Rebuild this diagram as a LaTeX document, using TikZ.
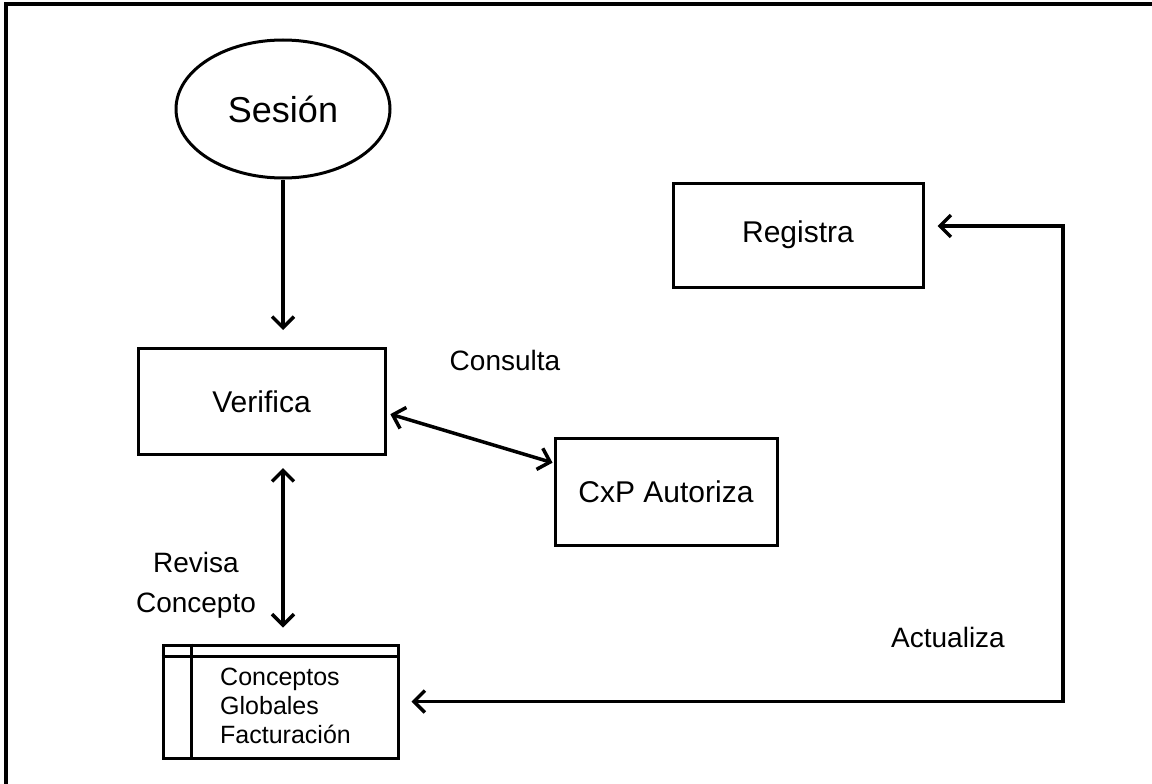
\documentclass[tikz,border=0pt]{standalone}
\usepackage{fontspec}
\setmainfont{Liberation Sans}
\usetikzlibrary{arrows.meta,shapes.geometric}
\begin{document}
\begin{tikzpicture}[x=1pt,y=-1pt,
  box/.style={draw,line width=3pt,inner sep=0pt,font=\fontsize{30}{36}\selectfont},
  lbl/.style={inner sep=0pt,font=\fontsize{28}{40}\selectfont},
  barb/.tip={Straight Barb[length=11pt,width=22pt]},
  flow/.style={line width=3.5pt,-barb},
  twoway/.style={line width=3.5pt,barb-barb}]
\useasboundingbox (0,0) rectangle (1152,784);

% outer frame (only left and top edges fall on the page)
\draw[line width=4pt] (6,800) -- (6,4) -- (1170,4);

% nodes
\node[box,ellipse,minimum width=214pt,minimum height=138pt,font=\fontsize{36}{40}\selectfont] (ses) at (283,109) {Sesión};
\node[box,minimum width=247pt,minimum height=106pt] (ver) at (261.5,401.5) {Verifica};
\node[box,minimum width=250pt,minimum height=104pt] (reg) at (798,235) {Registra};
\node[box,minimum width=222pt,minimum height=107pt] (cxp) at (666,491.5) {CxP Autoriza};

% data store
\node[draw,line width=3pt,inner sep=0pt,minimum width=235pt,minimum height=113pt] (tab) at (280.5,701.5) {};
\draw[line width=3pt] ([yshift=-13pt]tab.north west) -- ([yshift=-13pt]tab.north east);
\draw[line width=3pt] ([xshift=30pt]tab.north west) -- ([xshift=30pt]tab.south west);
\node[anchor=west,align=left,inner sep=0pt,font=\fontsize{25}{29}\selectfont] (tabtxt) at (220,706) {Conceptos\\Globales\\Facturación};

% labels
\node[lbl] (consulta) at (505,360) {Consulta};
\node[lbl,align=center] (revisa) at (196,585) {Revisa\\Concepto};
\node[lbl] (actualiza) at (948,637) {Actualiza};

% connectors
\draw[flow,shorten >=17pt] (ses.south) -- (ses.south |- ver.north);
\draw[twoway,shorten <=12pt,shorten >=16pt] (ses.south |- ver.south) -- (ses.south |- tab.north);
\draw[twoway,shorten <=4pt,shorten >=1pt] ([yshift=-11.5pt]ver.east) -- ([yshift=28.5pt]cxp.west);
\coordinate (turn) at (1063,226);
\draw[twoway,shorten <=12pt,shorten >=13pt,line join=miter] (tab.east) -| (turn) -- ([yshift=9pt]reg.east);
\end{tikzpicture}
\end{document}
